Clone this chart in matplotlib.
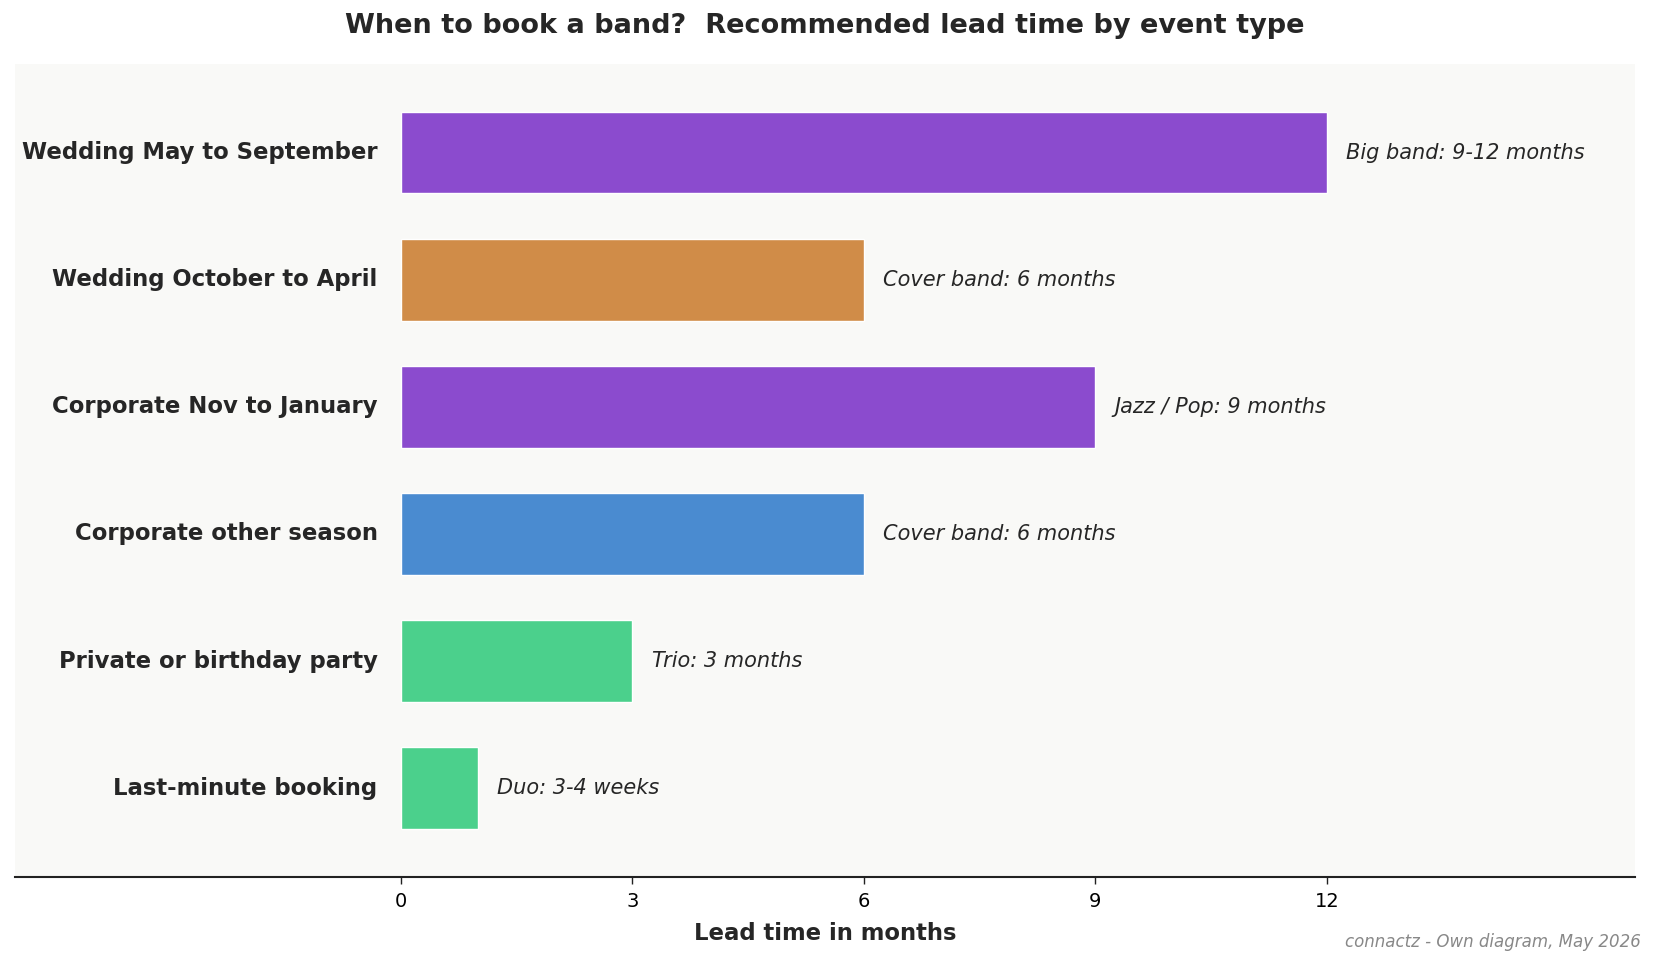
import matplotlib.pyplot as plt

# lead time data (top to bottom)
events = ["Wedding May to September", "Wedding October to April", "Corporate Nov to January",
          "Corporate other season", "Private or birthday party", "Last-minute booking"]
months = [12, 6, 9, 6, 3, 1]
notes = ["Big band: 9-12 months", "Cover band: 6 months", "Jazz / Pop: 9 months",
         "Cover band: 6 months", "Trio: 3 months", "Duo: 3-4 weeks"]
colors = ["#8B4BCE", "#D08C48", "#8B4BCE", "#4A8BD0", "#4BD08C", "#4BD08C"]
xticks = [0, 3, 6, 9, 12]

fig = plt.figure(figsize=(16.57, 9.67), dpi=100)
ax = fig.add_axes([0.009, 0.093, 0.978, 0.841])
ax.set_facecolor("#F9F9F7")

ypos = list(range(len(events)))[::-1]
ax.barh(ypos, months, height=0.64, color=colors, edgecolor="white", linewidth=1)

for y, ev, m, note in zip(ypos, events, months, notes):
    ax.text(-0.3, y, ev, ha="right", va="center", fontsize=16.4, fontweight="bold", color="#262626")
    ax.text(m + 0.25, y, note, ha="left", va="center", fontsize=15, style="italic", color="#262626")

ax.set_xlim(-5, 16)
ax.set_ylim(-0.7, 5.7)
ax.set_xticks(xticks)
ax.set_yticks([])
ax.tick_params(axis="x", labelsize=14, length=5, width=1, color="#222222", pad=6)
for s in ["top", "left", "right"]:
    ax.spines[s].set_visible(False)
ax.spines["bottom"].set_linewidth(1.5)
ax.spines["bottom"].set_color("#222222")

ax.set_xlabel("Lead time in months", fontsize=16.4, fontweight="bold", color="#262626", labelpad=8)
ax.set_title("When to book a band?  Recommended lead time by event type",
             fontsize=19.5, fontweight="bold", color="#262626", pad=22)

fig.text(0.990, 0.026, "connactz - Own diagram, May 2026", ha="right", va="center",
         fontsize=12, style="italic", color="#888888")

fig.savefig("out.png", dpi=100)
